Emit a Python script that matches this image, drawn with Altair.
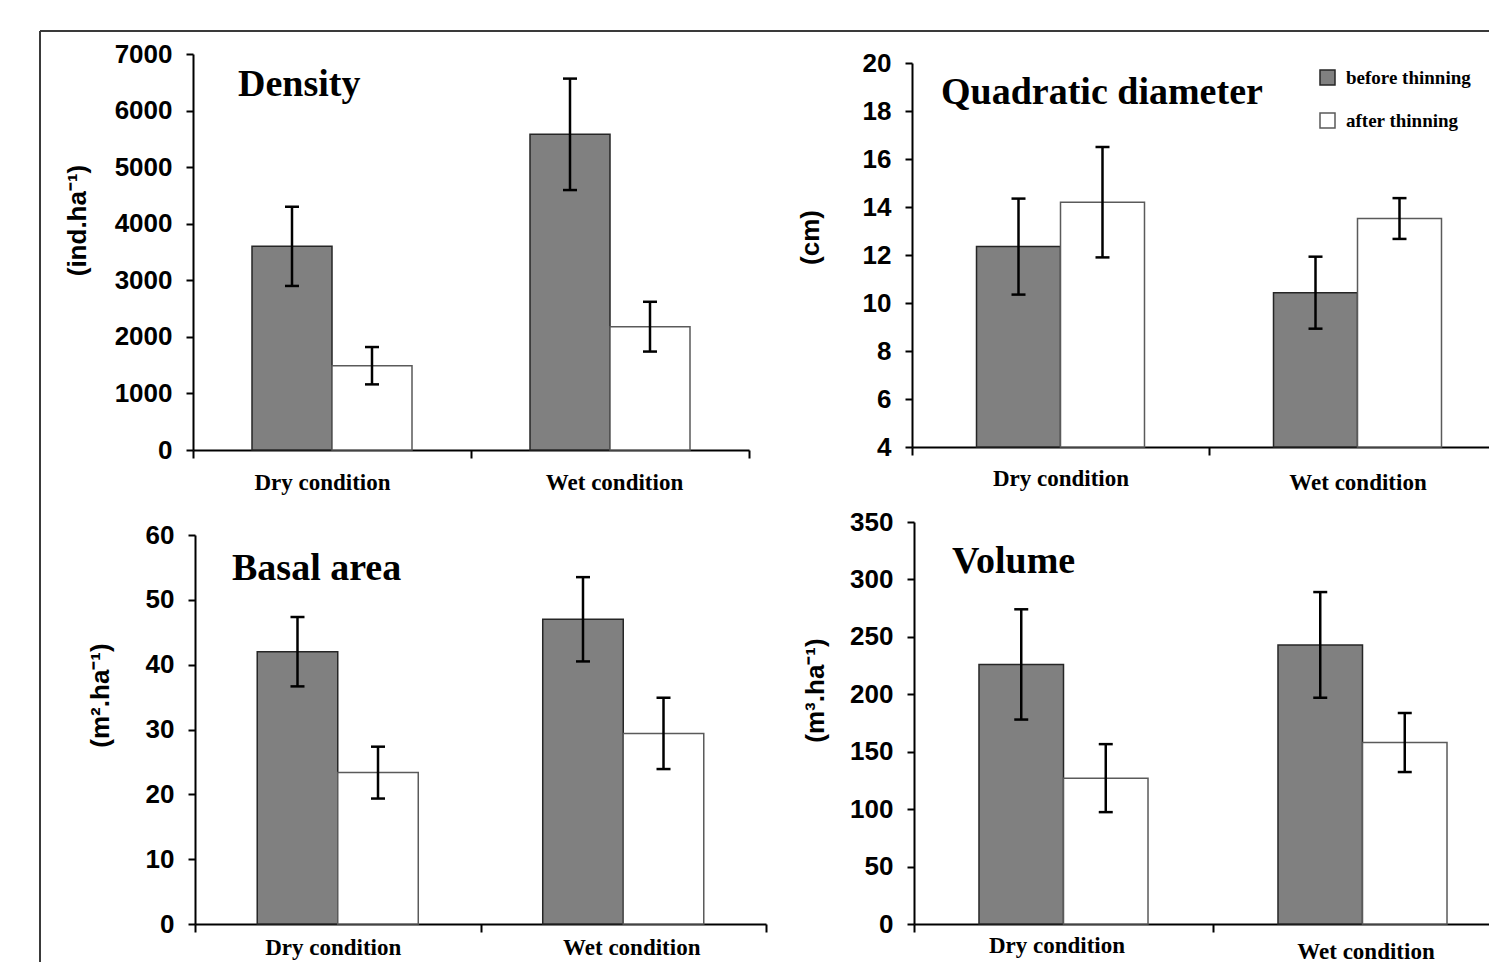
import altair as alt
import pandas as pd

conditions = ["Dry condition", "Wet condition"]
phases = ["before thinning", "after thinning"]

# order of values: Dry-before, Dry-after, Wet-before, Wet-after
density_mean = [3600, 1490, 5580, 2180]
density_err = [700, 330, 985, 440]
qd_mean = [12.35, 14.2, 10.43, 13.52]
qd_err = [2.0, 2.3, 1.5, 0.85]
ba_mean = [42.0, 23.35, 47.0, 29.4]
ba_err = [5.35, 4.0, 6.5, 5.5]
vol_mean = [226, 127, 243, 158]
vol_err = [48, 29.6, 46, 25.7]

density_ticks = [0, 1000, 2000, 3000, 4000, 5000, 6000, 7000]
qd_ticks = [4, 6, 8, 10, 12, 14, 16, 18, 20]
ba_ticks = [0, 10, 20, 30, 40, 50, 60]
vol_ticks = [0, 50, 100, 150, 200, 250, 300, 350]

W, H = 1481, 954

LEGEND = alt.Legend(
    title=None, orient="none", legendX=1310, legendY=60, padding=0,
    symbolType="square", symbolSize=225, symbolStrokeColor="#333333",
    symbolStrokeWidth=1.5, labelFont="Liberation Serif", labelFontWeight="bold",
    labelFontSize=19, labelColor="black", rowPadding=22, labelOffset=9,
)


def cond(test_val, a, b):
    return {"condition": {"test": f"datum.value == '{test_val}'", "value": a}, "value": b}


def make_panel(mean, err, domain, ticks, ytitle, title, xr, yr, pad_outer,
               title_xy, ytitle_xy, lab_pad, lab_off):
    df = pd.DataFrame({
        "condition": [c for c in conditions for _ in phases],
        "phase": phases * len(conditions),
        "mean": mean,
        "err": err,
    })
    df["lo"] = df["mean"] - df["err"]
    df["hi"] = df["mean"] + df["err"]
    base = alt.Chart(df)

    xaxis = alt.Axis(
        title=None, orient="bottom", offset=yr[0] - H, tickBand="extent",
        domainColor="black", domainWidth=2, tickColor="black", tickWidth=2,
        tickSize=8, labelFont="Liberation Serif", labelFontWeight="bold",
        labelFontSize=23, labelColor="black", labelAngle=0,
        labelBaseline="middle", labelPadding=lab_pad, labelOffset=lab_off,
        grid=False,
    )
    yaxis = alt.Axis(
        title=ytitle, orient="left", offset=-xr[0], values=ticks, grid=False,
        format="d",
        domainColor="black", domainWidth=2, tickColor="black", tickWidth=2,
        tickSize=7, labelFont="Liberation Sans", labelFontWeight="bold",
        labelFontSize=26, labelColor="black", labelPadding=14,
        titleFont="Liberation Sans", titleFontWeight="bold", titleFontSize=26,
        titleColor="black", titleAngle=270, titleBaseline="middle",
        titleAlign="center", titleX=ytitle_xy[0], titleY=ytitle_xy[1],
    )
    xenc = alt.X("condition:N", sort=conditions, axis=xaxis,
                 scale=alt.Scale(domain=conditions, range=xr, paddingInner=0, paddingOuter=0))
    xoff = alt.XOffset("phase:N", sort=phases,
                       scale=alt.Scale(domain=phases, paddingInner=0, paddingOuter=pad_outer))
    yscale = alt.Scale(domain=domain, range=yr, nice=False, zero=False)

    bars = base.mark_bar(strokeWidth=1.5).encode(
        x=xenc, xOffset=xoff,
        y=alt.Y("mean:Q", scale=yscale, axis=yaxis),
        y2=alt.datum(domain[0]),
        fill=alt.Fill("phase:N", sort=phases,
                      scale=alt.Scale(domain=phases, range=["#808080", "#ffffff"]),
                      legend=LEGEND),
        stroke=alt.Stroke("phase:N", sort=phases,
                          scale=alt.Scale(domain=phases, range=["#262626", "#5a5a5a"]),
                          legend=None),
    )
    rules = base.mark_rule(color="black", strokeWidth=2.5).encode(
        x=xenc, xOffset=xoff,
        y=alt.Y("lo:Q", scale=yscale, axis=yaxis), y2="hi:Q",
    )
    cap_hi = base.mark_tick(color="black", size=14, thickness=2.5, opacity=1).encode(
        x=xenc, xOffset=xoff, y=alt.Y("hi:Q", scale=yscale, axis=yaxis),
    )
    cap_lo = base.mark_tick(color="black", size=14, thickness=2.5, opacity=1).encode(
        x=xenc, xOffset=xoff, y=alt.Y("lo:Q", scale=yscale, axis=yaxis),
    )
    panel = alt.layer(bars, rules, cap_hi, cap_lo)

    ttl = alt.Chart(alt.Data(values=[{"t": title}])).mark_text(
        align="left", baseline="alphabetic", font="Liberation Serif",
        fontWeight="bold", fontSize=38, color="black",
    ).encode(x=alt.value(title_xy[0]), y=alt.value(title_xy[1]), text="t:N")
    return panel, ttl


p1, t1 = make_panel(density_mean, density_err, [0, 7000], density_ticks,
                    "(ind.ha\u207b\u00b9)", "Density",
                    [185, 741], [442, 46], 0.7375, (230, 88), (-116, 212),
                    24, cond("Dry condition", -10, 4))
p2, t2 = make_panel(qd_mean, qd_err, [4, 20], qd_ticks, "(cm)", "Quadratic diameter",
                    [904, 1498], [439, 55], 0.768, (933, 96), (-102, 229),
                    cond("Dry condition", 23, 27), 0)
p3, t3 = make_panel(ba_mean, ba_err, [0, 60], ba_ticks, "(m\u00b2.ha\u207b\u00b9)", "Basal area",
                    [187, 758], [916, 527], 0.773, (224, 572), (-95, 687),
                    15, cond("Dry condition", -5, 8))
p4, t4 = make_panel(vol_mean, vol_err, [0, 350], vol_ticks, "(m\u00b3.ha\u207b\u00b9)", "Volume",
                    [906, 1504], [916, 514], 0.769, (944, 565), (-99, 682),
                    cond("Dry condition", 13, 19), cond("Dry condition", -7, 3))

frame_data = alt.Data(values=[{"k": 1}])
frame_top = alt.Chart(frame_data).mark_rule(color="#3a3a3a", strokeWidth=2).encode(
    x=alt.value(32), x2=alt.value(W), y=alt.value(23), y2=alt.value(23))
frame_left = alt.Chart(frame_data).mark_rule(color="#3a3a3a", strokeWidth=2).encode(
    x=alt.value(32), x2=alt.value(32), y=alt.value(23), y2=alt.value(H))

chart = alt.layer(p1, p2, p3, p4, t1, t2, t3, t4, frame_top, frame_left).resolve_scale(
    x="independent", y="independent", xOffset="independent"
).resolve_axis(
    x="independent", y="independent"
).properties(
    width=W, height=H, padding=0, autosize=alt.AutoSizeParams(type="none"),
    background="white",
).configure_view(strokeWidth=0)

chart.save("out.html", embed_options={"renderer": "svg", "actions": False})
